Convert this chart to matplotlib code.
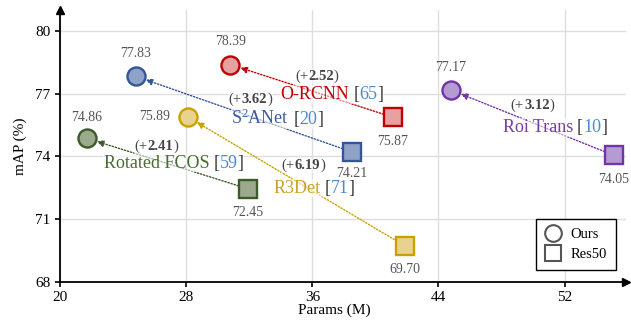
import matplotlib
matplotlib.use('Agg')
import matplotlib.pyplot as plt
from matplotlib.lines import Line2D
from matplotlib.offsetbox import TextArea, HPacker, AnnotationBbox

plt.rcParams['font.family'] = 'Liberation Serif'
plt.rcParams['mathtext.fontset'] = 'custom'
plt.rcParams['mathtext.rm'] = 'Liberation Serif'
plt.rcParams['mathtext.default'] = 'regular'

# data
methods = ['Rotated FCOS', 'S$^2$ANet', 'R3Det', 'O-RCNN', 'Roi Trans']
refs = ['59', '20', '71', '65', '10']
ours_params = [21.7, 24.8, 28.1, 30.8, 44.8]
ours_map = [74.86, 77.83, 75.89, 78.39, 77.17]
res50_params = [31.9, 38.5, 41.9, 41.1, 55.1]
res50_map = [72.45, 74.21, 69.70, 75.87, 74.05]
xticks = [20, 28, 36, 44, 52]
yticks = [68, 71, 74, 77, 80]

# styling / layout
edges = ['#3d5a2a', '#34559a', '#c9a100', '#c00000', '#7334a6']
faces = ['#9caa8c', '#8fa2c8', '#e8d28f', '#e8a0a0', '#b49bd3']
name_colors = ['#4b6b34', '#3a5ca3', '#c9a227', '#c00000', '#7a3aaa']
name_pos = [(27.21, 73.67), (33.78, 75.81), (36.10, 72.48), (37.24, 76.95), (51.37, 75.38)]
gain_pos = [(26.10, 74.48), (32.06, 76.71), (35.43, 73.57), (36.29, 77.81), (49.97, 76.43)]
ours_off = [(0, 20.5), (0, 23), (-33, 0), (0, 23), (0, 22.5)]   # pixels
res_off = [(0, -23.5), (0, -22), (0, -23.7), (0, -24.7), (0, -24.5)]

fig = plt.figure(figsize=(6.31, 3.21), dpi=100)
ax = fig.add_axes([60 / 631, (321 - 281.7) / 321, 566 / 631, 271.7 / 321])
ax.set_xlim(20, 55.89)
ax.set_ylim(68, 81.0)
ax.set_xticks(xticks)
ax.set_yticks(yticks)
ax.tick_params(labelsize=11, length=3.5, width=1.2, direction='out', colors='black')
ax.grid(color='#dedede', lw=1)
ax.set_axisbelow(True)
for s in ['top', 'right']:
    ax.spines[s].set_visible(False)
for s in ['left', 'bottom']:
    ax.spines[s].set_linewidth(1.3)
ax.plot(1, 0, '>k', ms=6, transform=ax.transAxes, clip_on=False)
ax.plot(0, 1, '^k', ms=6, transform=ax.transAxes, clip_on=False)

ax.set_xlabel('Params (M)', fontsize=11)
ax.xaxis.set_label_coords(0.484, -0.08)
ax.set_ylabel('mAP (%)', fontsize=11, labelpad=6)

px = 72 / 100.0
for i in range(len(methods)):
    ax.annotate('', xy=(ours_params[i], ours_map[i]), xytext=(res50_params[i], res50_map[i]),
                arrowprops=dict(arrowstyle='-|>,head_length=0.4,head_width=0.2', color=edges[i],
                                lw=1, ls=(0, (1, 1.3)), shrinkA=7, shrinkB=7.5), zorder=3)
    ax.plot(ours_params[i], ours_map[i], 'o', ms=13, mfc=faces[i], mec=edges[i], mew=1.7, zorder=6)
    ax.plot(res50_params[i], res50_map[i], 's', ms=12.5, mfc=faces[i], mec=edges[i], mew=1.7, zorder=6)

    ax.annotate('%.2f' % ours_map[i], (ours_params[i], ours_map[i]),
                xytext=(ours_off[i][0] * px, ours_off[i][1] * px), textcoords='offset points',
                ha='center', va='center', fontsize=10, color='#555555', zorder=7)
    ax.annotate('%.2f' % res50_map[i], (res50_params[i], res50_map[i]),
                xytext=(res_off[i][0] * px, res_off[i][1] * px), textcoords='offset points',
                ha='center', va='center', fontsize=10, color='#555555', zorder=7)

    fs = 13
    cite = HPacker(children=[TextArea('[', textprops=dict(color='#333333', fontsize=fs)),
                             TextArea(refs[i], textprops=dict(color='#4a8bd0', fontsize=fs)),
                             TextArea(']', textprops=dict(color='#333333', fontsize=fs))],
                   sep=0, pad=0, align='baseline')
    box = HPacker(children=[TextArea(methods[i], textprops=dict(color=name_colors[i], fontsize=fs)), cite],
                  sep=3, pad=0, align='baseline')
    ab = AnnotationBbox(box, name_pos[i], xycoords='data', box_alignment=(0.5, 0.5), frameon=True,
                        pad=0.05, bboxprops=dict(facecolor='white', alpha=0.55, edgecolor='none'), zorder=4)
    ax.add_artist(ab)

    g = '%.2f' % (ours_map[i] - res50_map[i])
    gp = dict(color='#444444', fontsize=10.5)
    gbox = HPacker(children=[TextArea('(+', textprops=gp),
                             TextArea(g, textprops=dict(gp, fontweight='bold')),
                             TextArea(')', textprops=gp)], sep=0, pad=0, align='baseline')
    ab2 = AnnotationBbox(gbox, gain_pos[i], xycoords='data', box_alignment=(0.5, 0.5), frameon=True,
                         pad=0.05, bboxprops=dict(facecolor='white', alpha=0.55, edgecolor='none'), zorder=4)
    ax.add_artist(ab2)

handles = [Line2D([], [], ls='none', marker='o', ms=12, mfc='white', mec='#555555', mew=1.5, label='Ours'),
           Line2D([], [], ls='none', marker='s', ms=11, mfc='white', mec='#555555', mew=1.5, label='Res50')]
leg = ax.legend(handles=handles, loc='lower right', bbox_to_anchor=(0.982, 0.043), borderaxespad=0,
                fancybox=False, edgecolor='black', framealpha=1, fontsize=10.5, handletextpad=0.6,
                borderpad=0.6, labelspacing=0.5, handlelength=1.2)
leg.get_frame().set_linewidth(1.0)

fig.savefig('out.png', dpi=100)
